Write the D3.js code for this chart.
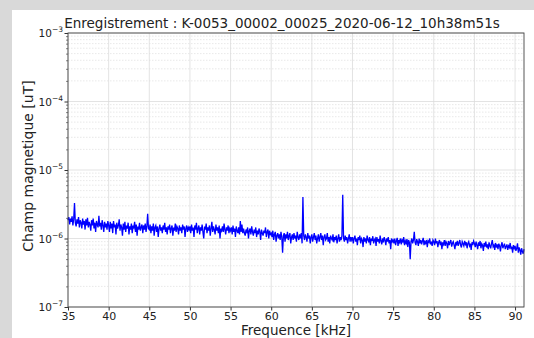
<!DOCTYPE html>
<html><head><meta charset="utf-8">
<script src="https://cdn.jsdelivr.net/npm/d3@7"></script>
<style>
body{margin:0;background:#d9d9d9;}
svg{display:block;font-family:"DejaVu Sans",sans-serif;}
</style></head>
<body><svg id="c" width="534" height="338"></svg>
<script>
const title = "Enregistrement : K-0053_00002_00025_2020-06-12_10h38m51s";
const xLabel = "Frequence [kHz]";
const yLabel = "Champ magnetique [uT]";
const xTicks = [35,40,45,50,55,60,65,70,75,80,85,90];
const yDecades = [-7,-6,-5,-4,-3];
const freqStart = 35.0;   // kHz, first bin
const freqStep = 0.1;     // kHz, bin width
// magnitudes in units of 1e-6 uT, one per bin (rows of 5 kHz)
const magnitude = [
 1.85,2.05,1.60,1.95,1.75,2.10,1.55,1.90,3.30,1.70,1.50,1.90,1.65,2.05,1.45,1.85,1.70,1.40,1.95,1.60,1.80,1.35,1.90,1.55,2.00,1.45,1.75,1.60,1.30,1.85,1.55,1.95,1.40,1.70,1.25,1.80,1.60,1.45,2.15,1.50,1.70,1.35,1.85,1.55,1.25,1.75,1.45,1.65,1.35,1.80,
 1.55,1.25,1.75,1.40,1.65,1.20,1.80,1.45,1.60,1.15,1.70,1.40,1.55,1.90,1.30,1.60,1.45,1.10,1.65,1.35,1.75,1.25,1.55,1.40,1.70,1.15,1.50,1.35,1.65,1.20,1.55,1.45,1.75,1.25,1.60,1.10,1.50,1.35,1.70,1.30,1.45,1.60,1.20,1.55,1.35,1.65,1.25,1.50,2.30,1.40,
 1.35,1.60,1.20,1.50,1.30,1.65,1.10,1.45,1.55,1.25,1.50,1.05,1.40,1.60,1.30,1.45,1.20,1.55,1.35,1.70,1.25,1.45,1.15,1.50,1.35,1.60,1.20,1.40,1.55,1.10,1.45,1.30,1.65,1.25,1.50,1.40,1.15,1.55,1.30,1.45,1.20,1.60,1.35,1.50,1.05,1.40,1.55,1.25,1.45,1.35,
 1.50,1.20,1.60,1.30,1.45,1.05,1.55,1.35,1.70,1.20,1.40,1.55,1.15,1.45,1.30,1.60,1.25,1.00,1.50,1.35,1.65,1.20,1.45,1.30,1.55,1.10,1.40,1.75,1.25,1.50,1.35,1.15,1.60,1.30,1.45,1.20,1.55,1.00,1.40,1.30,1.50,1.25,1.65,1.35,1.15,1.45,1.30,1.55,1.20,1.40,
 1.30,1.45,1.15,1.55,1.25,1.40,1.05,1.50,1.30,1.20,1.45,1.15,1.80,1.25,1.60,1.20,1.40,1.20,1.10,1.35,1.25,1.45,1.00,1.30,1.40,1.15,1.50,1.25,1.10,1.35,1.20,1.45,1.05,1.30,1.15,1.40,1.25,0.95,1.35,1.20,1.10,1.30,1.20,1.45,1.05,1.25,1.35,1.00,1.30,1.15,
 1.20,1.05,1.30,0.95,1.15,1.25,0.90,1.10,1.20,1.00,1.15,0.95,1.25,1.05,0.62,1.10,1.20,0.90,1.15,1.00,1.25,0.95,1.10,1.20,0.85,1.05,1.15,0.95,1.20,1.00,1.10,0.90,1.25,1.05,0.95,1.15,1.00,1.20,0.85,4.05,1.10,0.95,1.15,1.05,0.90,1.20,1.00,1.10,0.85,1.05,
 1.15,0.90,1.05,1.20,0.95,1.10,0.85,1.00,1.15,0.90,1.05,1.20,0.95,1.10,0.80,1.05,1.15,0.95,1.00,1.20,0.90,1.05,0.85,1.10,1.00,0.95,1.15,0.88,1.05,0.95,1.10,0.85,1.00,1.15,0.90,1.05,0.95,1.10,4.35,1.00,0.90,1.10,0.95,1.05,0.85,1.00,1.15,0.90,1.05,0.95,
 1.05,0.85,1.00,1.10,0.90,1.00,0.80,1.05,0.95,1.10,0.85,1.00,0.95,0.75,1.05,0.90,1.00,0.85,1.10,0.95,0.90,1.05,0.80,1.00,0.92,1.08,0.85,0.95,1.00,0.78,1.05,0.90,0.98,0.85,1.10,0.92,0.82,1.00,0.88,1.05,0.95,0.80,1.00,0.90,1.05,0.85,0.95,0.70,1.00,0.90,
 0.95,0.85,1.00,0.80,0.92,1.02,0.78,0.95,0.88,1.00,0.82,0.95,0.90,1.05,0.80,0.92,0.85,0.98,0.75,0.95,0.88,0.50,0.90,1.00,0.85,0.95,1.25,0.88,0.80,0.98,0.90,0.78,1.00,0.85,0.95,0.82,0.92,1.02,0.80,0.90,0.85,0.95,0.75,0.92,0.88,1.00,0.82,0.90,0.78,0.95,
 0.90,0.80,1.00,0.85,0.92,0.75,0.88,0.95,0.80,0.90,0.70,0.88,0.82,0.95,0.78,0.90,0.85,0.72,0.92,0.80,0.88,0.95,0.76,0.85,0.90,0.80,0.70,0.88,0.82,0.92,0.78,0.86,0.95,0.80,0.74,0.90,0.84,0.78,0.92,0.82,0.88,0.72,0.85,0.90,0.78,0.84,0.68,0.88,0.80,0.92,
 0.85,0.75,0.90,0.80,0.70,0.88,0.78,0.92,0.72,0.84,0.80,0.66,0.86,0.76,0.90,0.74,0.82,0.70,0.88,0.78,0.72,0.84,0.95,0.76,0.80,0.68,0.86,0.74,0.82,0.70,0.84,0.78,0.65,0.80,0.88,0.72,0.78,0.84,0.70,0.76,0.82,0.68,0.78,0.74,0.86,0.70,0.76,0.62,0.80,0.72,
 0.78,0.66,0.72,0.85,0.62,0.74,0.68,0.58,0.72,0.65,0.60,0.70
];
const unit = 1e-6;
const data = magnitude.map((m,i)=>({f: freqStart + i*freqStep, v: m*unit}));

const svg = d3.select("#c");
svg.append("rect").attr("x",12).attr("y",10).attr("width",522).attr("height",328).attr("fill","#fff");

const L=68,R=524,T=33,B=307;
const x = d3.scaleLinear().domain([35, 91.1]).range([L,R]);
const y = d3.scaleLog().domain([1e-7,1e-3]).range([B,T]);

// minor grid (horizontal)
const minorVals = [];
for (let e=-7;e<-3;e++) for (let k=2;k<=9;k++) minorVals.push(k*Math.pow(10,e));
svg.append("g").selectAll("line").data(minorVals).join("line")
  .attr("x1",L).attr("x2",R).attr("y1",d=>y(d)).attr("y2",d=>y(d))
  .attr("stroke","#e2e2e2").attr("stroke-width",0.8).attr("stroke-dasharray","1.5,1.5");
// major grid
svg.append("g").selectAll("line").data(yDecades.map(e=>Math.pow(10,e))).join("line")
  .attr("x1",L).attr("x2",R).attr("y1",d=>y(d)).attr("y2",d=>y(d))
  .attr("stroke","#dcdcdc").attr("stroke-width",0.8);
svg.append("g").selectAll("line").data(xTicks).join("line")
  .attr("x1",d=>x(d)).attr("x2",d=>x(d)).attr("y1",T).attr("y2",B)
  .attr("stroke","#dcdcdc").attr("stroke-width",0.8);

// line
svg.append("path").datum(data)
  .attr("d", d3.line().x(d=>x(d.f)).y(d=>y(d.v)))
  .attr("fill","none").attr("stroke","#0000ff").attr("stroke-width",1.3);

// axes
const xAxis = d3.axisBottom(x).tickValues(xTicks).tickSize(3.5).tickPadding(2).tickFormat(d3.format("d"));
const gx = svg.append("g").attr("transform",`translate(0,${B})`).call(xAxis);
gx.select(".domain").remove();
gx.selectAll("text").attr("font-size",11).attr("fill","#222").attr("font-family","DejaVu Sans");
gx.selectAll("line").attr("stroke","#333");

const yAxis = d3.axisLeft(y).tickValues(minorVals).tickSize(2).tickFormat("");
const gy = svg.append("g").attr("transform",`translate(${L},0)`).call(yAxis);
gy.select(".domain").remove();
gy.selectAll("line").attr("stroke","#333").attr("stroke-width",0.6);
const gyM = svg.append("g").attr("transform",`translate(${L},0)`)
  .call(d3.axisLeft(y).tickValues(yDecades.map(e=>Math.pow(10,e))).tickSize(3.5).tickFormat(""));
gyM.select(".domain").remove();
gyM.selectAll("line").attr("stroke","#333");
const lab = svg.append("g").selectAll("text").data(yDecades).join("text")
  .attr("x",L-5).attr("y",d=>y(Math.pow(10,d))+4).attr("text-anchor","end")
  .attr("font-size",10.5).attr("fill","#222");
lab.append("tspan").text("10");
lab.append("tspan").attr("dy",-5).attr("font-size",7.5).text(d=>"\u2212"+(-d));

// frame
svg.append("rect").attr("x",L).attr("y",T).attr("width",R-L).attr("height",B-T)
  .attr("fill","none").attr("stroke","#444").attr("stroke-width",0.9);

svg.append("text").attr("x",282).attr("y",28).attr("text-anchor","middle")
  .attr("font-size",13.5).attr("fill","#222").text(title);
svg.append("text").attr("x",(L+R)/2).attr("y",335).attr("text-anchor","middle")
  .attr("font-size",13.5).attr("fill","#222").text(xLabel);
svg.append("text").attr("transform",`translate(33,166) rotate(-90)`).attr("text-anchor","middle")
  .attr("font-size",14).attr("fill","#222").text(yLabel);
</script></body></html>
